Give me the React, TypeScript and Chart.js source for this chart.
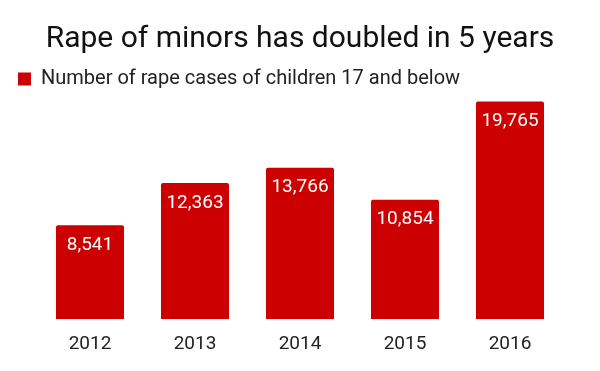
import React, { useEffect, useRef } from "react";
import { Chart, registerables } from "chart.js";

Chart.register(...registerables);

const years = ["2012", "2013", "2014", "2015", "2016"];
const cases = [8541, 12363, 13766, 10854, 19765];
const seriesLabel = "Number of rape cases of children 17 and below";
const titleText = "Rape of minors has doubled in 5 years";

const FONT = "Roboto, 'Noto Sans', sans-serif";

const valueLabels = {
  id: "valueLabels",
  afterDatasetsDraw(chart: any) {
    const ctx = chart.ctx;
    const meta = chart.getDatasetMeta(0);
    ctx.save();
    ctx.fillStyle = "#ffffff";
    ctx.font = `19px ${FONT}`;
    ctx.textAlign = "center";
    ctx.textBaseline = "middle";
    meta.data.forEach((bar: any, i: number) => {
      const v = chart.data.datasets[0].data[i] as number;
      ctx.fillText(v.toLocaleString("en-US"), bar.x, bar.y + 20);
    });
    ctx.restore();
  },
};

export default function App() {
  const ref = useRef<HTMLCanvasElement>(null);
  useEffect(() => {
    if (!ref.current) return;
    const chart = new Chart(ref.current, {
      type: "bar",
      data: {
        labels: years,
        datasets: [
          {
            label: seriesLabel,
            data: cases,
            backgroundColor: "#cc0000",
            borderRadius: { topLeft: 2, topRight: 2, bottomLeft: 0, bottomRight: 0 },
            borderSkipped: false,
            categoryPercentage: 0.8,
            barPercentage: 0.81,
          },
        ],
      },
      options: {
        animation: false,
        responsive: false,
        maintainAspectRatio: false,
        layout: { padding: { left: 8, right: 8, top: 8, bottom: 9 } },
        plugins: {
          title: {
            display: true,
            text: titleText,
            color: "#111111",
            font: { family: FONT, size: 30, weight: "normal" },
            padding: { top: 13, bottom: 2 },
          },
          legend: {
            display: true,
            align: "start",
            labels: {
              boxWidth: 13,
              boxHeight: 13,
              color: "#222222",
              font: { family: FONT, size: 20 },
              padding: 10,
            },
          },
          tooltip: { enabled: false },
        },
        scales: {
          x: {
            grid: { display: false },
            border: { display: false },
            ticks: { color: "#222222", font: { family: FONT, size: 19 }, padding: 6 },
          },
          y: {
            display: true,
            position: "left",
            min: 0,
            max: 20000,
            grid: { display: false },
            border: { display: false },
            ticks: { display: false },
            afterFit: (s: any) => {
              s.width = 29.5;
            },
          },
          y2: {
            display: true,
            position: "right",
            min: 0,
            max: 20000,
            grid: { display: false },
            border: { display: false },
            ticks: { display: false },
            afterFit: (s: any) => {
              s.width = 29.5;
            },
          },
        },
      },
      plugins: [valueLabels],
    });
    return () => chart.destroy();
  }, []);
  return (
    <div style={{ position: "fixed", left: 0, top: 0, width: 600, height: 371, background: "#fff" }}>
      <canvas ref={ref} width={600} height={371} style={{ width: 600, height: 371 }} />
    </div>
  );
}
